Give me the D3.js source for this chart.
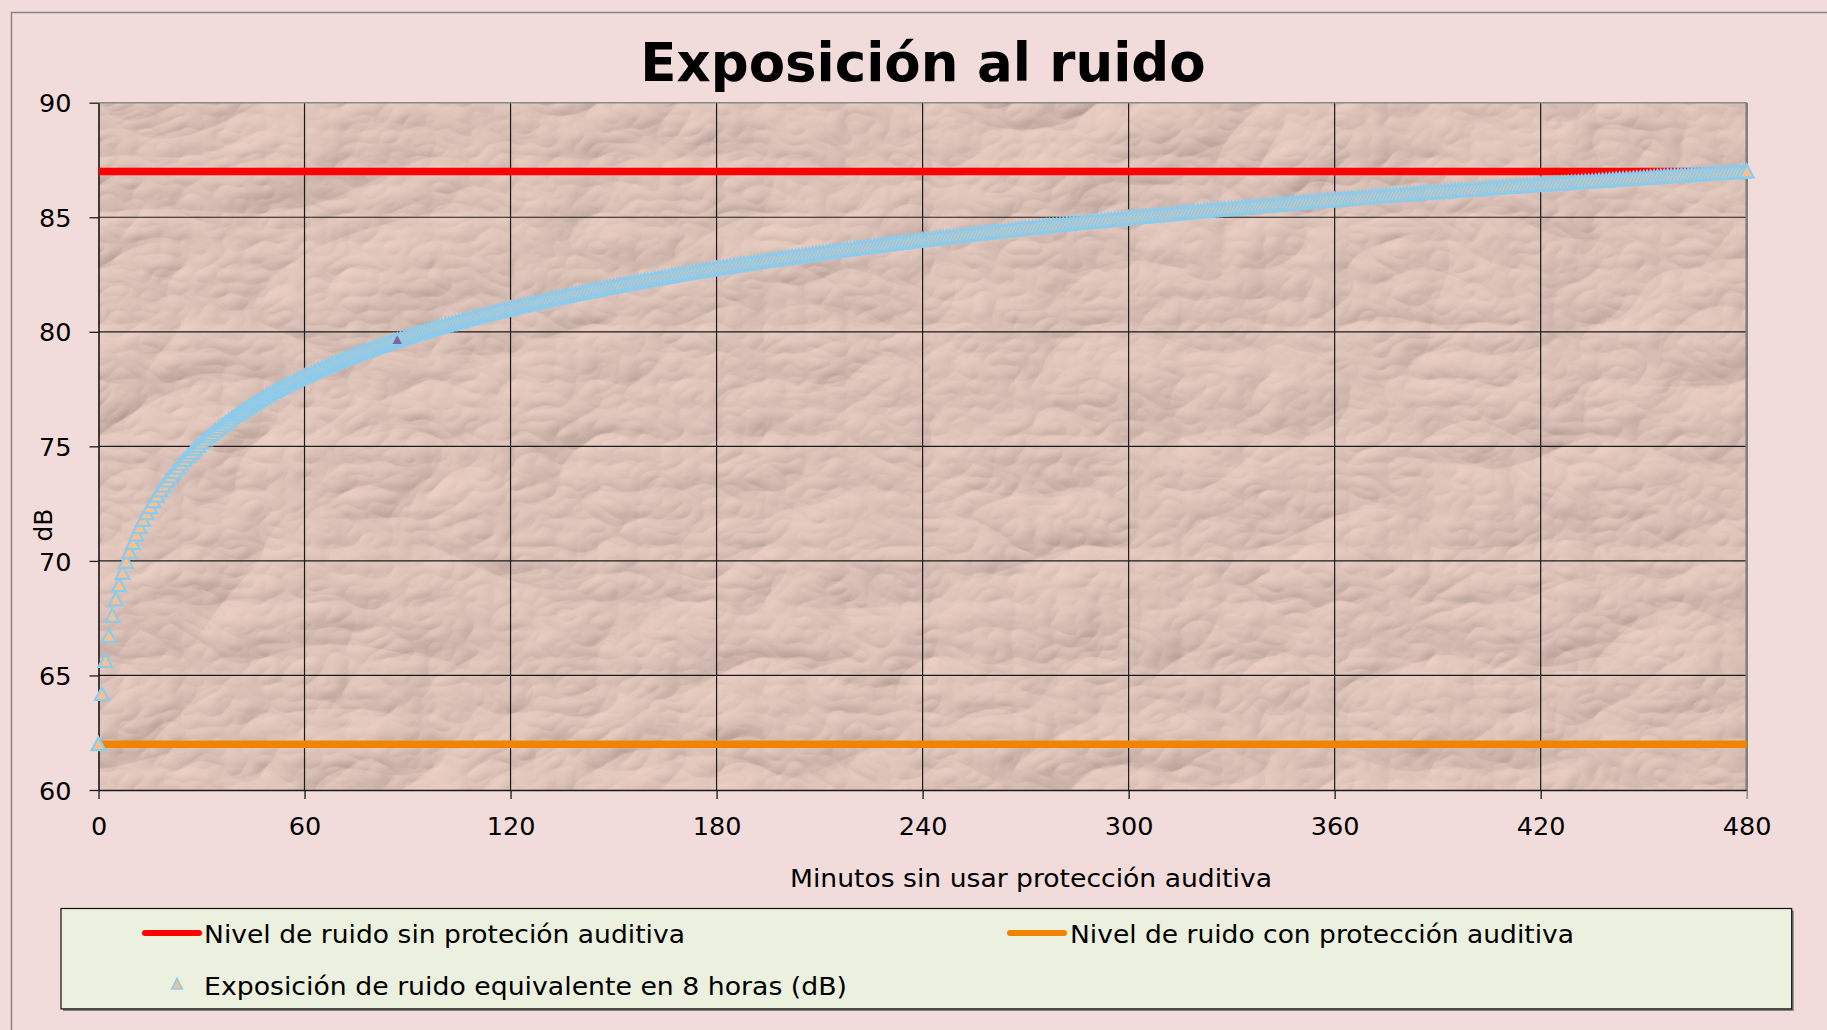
<!DOCTYPE html>
<html>
<head>
<meta charset="utf-8">
<script src="https://cdn.jsdelivr.net/npm/d3@7/dist/d3.min.js"></script>
<style>
  body { margin: 0; background: #F2DCDB; }
  svg { display: block; font-family: "DejaVu Sans", Verdana, sans-serif; }
</style>
</head>
<body>
<div id="chart-area"></div>
<script>
// ---- data ----
var titulo = "Exposición al ruido";
var tituloX = "Minutos sin usar protección auditiva";
var tituloY = "dB";

var ticksMinutos = [0, 60, 120, 180, 240, 300, 360, 420, 480];
var ticksDb = [60, 65, 70, 75, 80, 85, 90];

// the two flat reference levels (start and end of the 8 hour shift)
var extremosMinutos = [0, 480];
var sinProteccion = [87, 87];
var conProteccion = [62, 62];

// equivalent 8h exposure, one value per minute (0..480)
var exposicion = [
  62.00, 64.19, 65.64, 66.73, 67.60, 68.32, 68.94, 69.48, 69.96, 70.40,
  70.79, 71.15, 71.48, 71.79, 72.08, 72.35, 72.61, 72.85, 73.08, 73.30,
  73.50, 73.70, 73.89, 74.07, 74.24, 74.41, 74.57, 74.73, 74.88, 75.02,
  75.16, 75.30, 75.43, 75.55, 75.68, 75.80, 75.92, 76.03, 76.14, 76.25,
  76.36, 76.46, 76.56, 76.66, 76.76, 76.85, 76.94, 77.03, 77.12, 77.21,
  77.29, 77.38, 77.46, 77.54, 77.62, 77.70, 77.77, 77.85, 77.92, 77.99,
  78.06, 78.13, 78.20, 78.27, 78.34, 78.40, 78.47, 78.53, 78.59, 78.66,
  78.72, 78.78, 78.84, 78.90, 78.95, 79.01, 79.07, 79.12, 79.18, 79.23,
  79.29, 79.34, 79.39, 79.44, 79.49, 79.55, 79.60, 79.64, 79.69, 79.74,
  79.79, 79.84, 79.88, 79.93, 79.97, 80.02, 80.06, 80.11, 80.15, 80.20,
  80.24, 80.28, 80.32, 80.37, 80.41, 80.45, 80.49, 80.53, 80.57, 80.61,
  80.65, 80.69, 80.72, 80.76, 80.80, 80.84, 80.88, 80.91, 80.95, 80.98,
  81.02, 81.06, 81.09, 81.13, 81.16, 81.20, 81.23, 81.26, 81.30, 81.33,
  81.36, 81.40, 81.43, 81.46, 81.49, 81.53, 81.56, 81.59, 81.62, 81.65,
  81.68, 81.71, 81.74, 81.77, 81.80, 81.83, 81.86, 81.89, 81.92, 81.95,
  81.98, 82.01, 82.04, 82.06, 82.09, 82.12, 82.15, 82.17, 82.20, 82.23,
  82.26, 82.28, 82.31, 82.34, 82.36, 82.39, 82.41, 82.44, 82.47, 82.49,
  82.52, 82.54, 82.57, 82.59, 82.62, 82.64, 82.67, 82.69, 82.72, 82.74,
  82.76, 82.79, 82.81, 82.83, 82.86, 82.88, 82.90, 82.93, 82.95, 82.97,
  83.00, 83.02, 83.04, 83.06, 83.09, 83.11, 83.13, 83.15, 83.17, 83.20,
  83.22, 83.24, 83.26, 83.28, 83.30, 83.32, 83.34, 83.36, 83.39, 83.41,
  83.43, 83.45, 83.47, 83.49, 83.51, 83.53, 83.55, 83.57, 83.59, 83.61,
  83.63, 83.65, 83.67, 83.69, 83.71, 83.72, 83.74, 83.76, 83.78, 83.80,
  83.82, 83.84, 83.86, 83.88, 83.89, 83.91, 83.93, 83.95, 83.97, 83.99,
  84.00, 84.02, 84.04, 84.06, 84.07, 84.09, 84.11, 84.13, 84.14, 84.16,
  84.18, 84.20, 84.21, 84.23, 84.25, 84.26, 84.28, 84.30, 84.32, 84.33,
  84.35, 84.37, 84.38, 84.40, 84.41, 84.43, 84.45, 84.46, 84.48, 84.50,
  84.51, 84.53, 84.54, 84.56, 84.57, 84.59, 84.61, 84.62, 84.64, 84.65,
  84.67, 84.68, 84.70, 84.71, 84.73, 84.75, 84.76, 84.78, 84.79, 84.81,
  84.82, 84.84, 84.85, 84.86, 84.88, 84.89, 84.91, 84.92, 84.94, 84.95,
  84.97, 84.98, 85.00, 85.01, 85.02, 85.04, 85.05, 85.07, 85.08, 85.09,
  85.11, 85.12, 85.14, 85.15, 85.16, 85.18, 85.19, 85.21, 85.22, 85.23,
  85.25, 85.26, 85.27, 85.29, 85.30, 85.31, 85.33, 85.34, 85.35, 85.37,
  85.38, 85.39, 85.40, 85.42, 85.43, 85.44, 85.46, 85.47, 85.48, 85.50,
  85.51, 85.52, 85.53, 85.55, 85.56, 85.57, 85.58, 85.60, 85.61, 85.62,
  85.63, 85.65, 85.66, 85.67, 85.68, 85.69, 85.71, 85.72, 85.73, 85.74,
  85.76, 85.77, 85.78, 85.79, 85.80, 85.81, 85.83, 85.84, 85.85, 85.86,
  85.87, 85.89, 85.90, 85.91, 85.92, 85.93, 85.94, 85.95, 85.97, 85.98,
  85.99, 86.00, 86.01, 86.02, 86.03, 86.05, 86.06, 86.07, 86.08, 86.09,
  86.10, 86.11, 86.12, 86.13, 86.15, 86.16, 86.17, 86.18, 86.19, 86.20,
  86.21, 86.22, 86.23, 86.24, 86.25, 86.26, 86.28, 86.29, 86.30, 86.31,
  86.32, 86.33, 86.34, 86.35, 86.36, 86.37, 86.38, 86.39, 86.40, 86.41,
  86.42, 86.43, 86.44, 86.45, 86.46, 86.47, 86.48, 86.49, 86.50, 86.51,
  86.52, 86.53, 86.54, 86.55, 86.56, 86.57, 86.58, 86.59, 86.60, 86.61,
  86.62, 86.63, 86.64, 86.65, 86.66, 86.67, 86.68, 86.69, 86.70, 86.71,
  86.72, 86.73, 86.74, 86.75, 86.76, 86.77, 86.78, 86.79, 86.80, 86.81,
  86.82, 86.83, 86.83, 86.84, 86.85, 86.86, 86.87, 86.88, 86.89, 86.90,
  86.91, 86.92, 86.93, 86.94, 86.95, 86.95, 86.96, 86.97, 86.98, 86.99,
  87.00
];
// the one marker that shows up selected (purple) in the picture
var minutoMarcado = 87;

var leyenda = [
  { nombre: "Nivel de ruido sin proteción auditiva", tipo: "linea", color: "#FF0000" },
  { nombre: "Nivel de ruido con protección auditiva", tipo: "linea", color: "#F08400" },
  { nombre: "Exposición de ruido equivalente en 8 horas (dB)", tipo: "triangulo" }
];

// ---- layout ----
var W = 1827, H = 1030;
var margin = { left: 98.5, right: 80.3, top: 102.7, bottom: 240 },
    width = W - margin.left - margin.right,
    height = H - margin.top - margin.bottom;

var svg = d3.select("#chart-area").append("svg")
    .attr("width", W)
    .attr("height", H);

// chart frame (only top/left edge inside the picture)
svg.append("rect")
    .attr("x", 11.5).attr("y", 12.5)
    .attr("width", W).attr("height", H)
    .attr("fill", "#F2DCDB")
    .attr("stroke", "#858585")
    .attr("stroke-width", 1.5);

// crumpled paper texture for the plot area
var defs = svg.append("defs");
var papel = defs.append("filter")
    .attr("id", "papel")
    .attr("filterUnits", "userSpaceOnUse")
    .attr("x", 0).attr("y", 0)
    .attr("width", width).attr("height", height);
papel.append("feTurbulence")
    .attr("type", "turbulence")
    .attr("baseFrequency", "0.006 0.009")
    .attr("numOctaves", 4)
    .attr("seed", 23)
    .attr("result", "ruido");
papel.append("feDiffuseLighting")
    .attr("in", "ruido")
    .attr("surfaceScale", 6)
    .attr("diffuseConstant", 1.06)
    .attr("lighting-color", "#E9CDC2")
    .append("feDistantLight")
    .attr("azimuth", 235)
    .attr("elevation", 55);

var g = svg.append("g")
    .attr("transform", "translate(" + margin.left + "," + margin.top + ")");

g.append("rect")
    .attr("width", width)
    .attr("height", height)
    .attr("fill", "#D8BAAE")
    .attr("filter", "url(#papel)");

// scales
var x = d3.scaleLinear().domain([0, 480]).range([0, width]);
var y = d3.scaleLinear().domain([60, 90]).range([height, 0]);

// gridlines
g.append("g").attr("class", "grid-y")
    .selectAll("line")
    .data(ticksDb.slice(1, -1))
    .enter().append("line")
    .attr("x1", 0).attr("x2", width)
    .attr("y1", function(d) { return y(d); })
    .attr("y2", function(d) { return y(d); })
    .attr("stroke", "#1c1c1c")
    .attr("stroke-width", 1.2);

g.append("g").attr("class", "grid-x")
    .selectAll("line")
    .data(ticksMinutos.slice(1, -1))
    .enter().append("line")
    .attr("x1", function(d) { return x(d); })
    .attr("x2", function(d) { return x(d); })
    .attr("y1", 0).attr("y2", height)
    .attr("stroke", "#1c1c1c")
    .attr("stroke-width", 1.2);

// plot border: grey top and right
g.append("line")
    .attr("x1", 0).attr("x2", width).attr("y1", 0).attr("y2", 0)
    .attr("stroke", "#8a8a8a").attr("stroke-width", 1.6);
g.append("line")
    .attr("x1", width).attr("x2", width).attr("y1", 0).attr("y2", height)
    .attr("stroke", "#808080").attr("stroke-width", 2.6);

// axes
var yAxisCall = d3.axisLeft(y)
    .tickValues(ticksDb)
    .tickSize(9)
    .tickSizeOuter(0)
    .tickPadding(18);
var yAxis = g.append("g").attr("class", "y axis").call(yAxisCall);

var xAxisCall = d3.axisBottom(x)
    .tickValues(ticksMinutos)
    .tickSize(9)
    .tickSizeOuter(0)
    .tickPadding(18);
var xAxis = g.append("g").attr("class", "x axis")
    .attr("transform", "translate(0," + height + ")")
    .call(xAxisCall);

[xAxis, yAxis].forEach(function(a) {
  a.select(".domain").attr("stroke", "#1a1a1a").attr("stroke-width", 1.6);
  a.selectAll(".tick line").attr("stroke", "#1a1a1a").attr("stroke-width", 1.3);
  a.selectAll(".tick text")
      .attr("fill", "#000")
      .style("font-family", "'DejaVu Sans', Verdana, sans-serif")
      .style("font-size", "25.5px");
});
yAxis.selectAll(".tick text").attr("dy", "0.36em");
xAxis.selectAll(".tick line").attr("stroke", function(d) { return d === 480 ? "#808080" : "#1a1a1a"; });

// flat levels
var nivel = d3.line()
    .x(function(d) { return x(d[0]); })
    .y(function(d) { return y(d[1]); });

g.append("path")
    .attr("d", nivel(d3.zip(extremosMinutos, sinProteccion)))
    .attr("fill", "none")
    .attr("stroke", leyenda[0].color)
    .attr("stroke-width", 7.5);

g.append("path")
    .attr("d", nivel(d3.zip(extremosMinutos, conProteccion)))
    .attr("fill", "none")
    .attr("stroke", leyenda[1].color)
    .attr("stroke-width", 7.5);

// triangle markers, one per minute
var triangulo = "M0,-6.8L6.9,6L-6.9,6Z";
g.append("g").attr("class", "marcas")
    .selectAll("path")
    .data(exposicion)
    .enter().append("path")
    .attr("d", triangulo)
    .attr("transform", function(d, i) { return "translate(" + x(i) + "," + y(d) + ")"; })
    .attr("fill", "#FAC090")
    .attr("stroke", "#8DCBEC")
    .attr("stroke-width", 2.2);

g.append("path")
    .attr("d", "M0,-4.8L4.7,4L-4.7,4Z")
    .attr("transform", "translate(" + x(minutoMarcado) + "," + y(exposicion[minutoMarcado]) + ")")
    .attr("fill", "#7F62A0");

// title + axis titles
svg.append("text")
    .attr("x", 923).attr("y", 81)
    .attr("text-anchor", "middle")
    .style("font-size", "53px")
    .style("font-weight", "bold")
    .text(titulo);

svg.append("text")
    .attr("x", 1031).attr("y", 887)
    .attr("text-anchor", "middle")
    .style("font-size", "25px")
    .attr("textLength", 482)
    .attr("lengthAdjust", "spacingAndGlyphs")
    .text(tituloX);

svg.append("text")
    .attr("transform", "translate(52,525) rotate(-90)")
    .attr("text-anchor", "middle")
    .style("font-size", "25px")
    .text(tituloY);

// legend
var leg = svg.append("g").attr("class", "legend");
leg.append("rect")
    .attr("x", 63).attr("y", 910.5)
    .attr("width", 1730.7).attr("height", 100.4)
    .attr("fill", "#7a7a7a");
leg.append("rect")
    .attr("x", 61).attr("y", 908.5)
    .attr("width", 1730.7).attr("height", 100.4)
    .attr("fill", "#EBF0DF")
    .attr("stroke", "#111")
    .attr("stroke-width", 1.2);

var posLeyenda = [
  { sx: 145, tx: 204, cy: 933, ancho: 481 },
  { sx: 1010, tx: 1070, cy: 933, ancho: 504 },
  { sx: 145, tx: 204, cy: 985, ancho: 643 }
];

leyenda.forEach(function(d, i) {
  var p = posLeyenda[i];
  if (d.tipo === "linea") {
    leg.append("line")
        .attr("x1", p.sx).attr("x2", p.sx + 54)
        .attr("y1", p.cy).attr("y2", p.cy)
        .attr("stroke", d.color)
        .attr("stroke-width", 6)
        .attr("stroke-linecap", "round");
  } else {
    leg.append("path")
        .attr("d", "M0,-5.6L5.2,5L-5.2,5Z")
        .attr("transform", "translate(" + (p.sx + 32) + "," + (p.cy - 1) + ")")
        .attr("fill", "#FAC090")
        .attr("stroke", "#8DCBEC")
        .attr("stroke-width", 1.6);
  }
  leg.append("text")
      .attr("x", p.tx).attr("y", p.cy + 10)
      .style("font-size", "25px")
      .attr("textLength", p.ancho)
      .attr("lengthAdjust", "spacingAndGlyphs")
      .text(d.nombre);
});
</script>
</body>
</html>
